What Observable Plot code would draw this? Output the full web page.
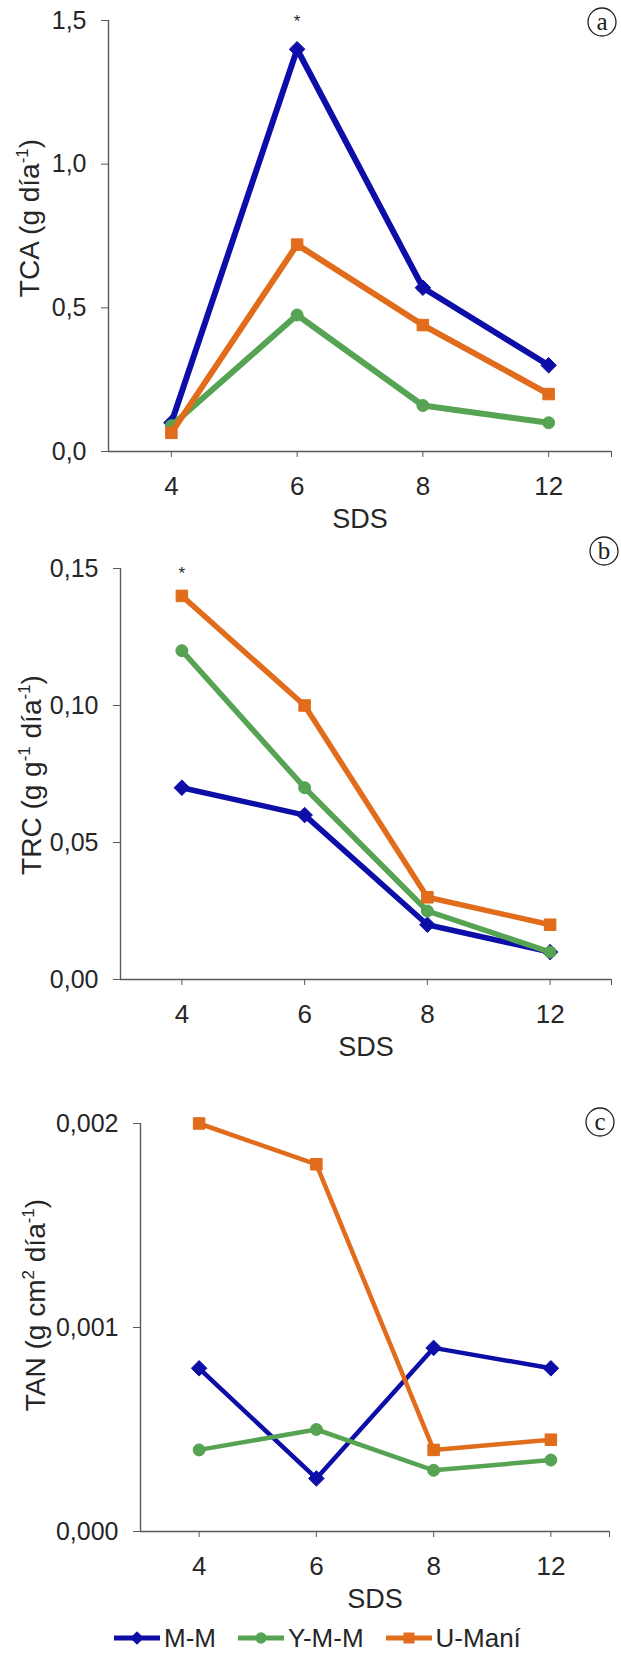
<!DOCTYPE html>
<html><head><meta charset="utf-8">
<script src="https://cdn.jsdelivr.net/npm/d3@7"></script>
<script src="https://cdn.jsdelivr.net/npm/@observablehq/plot@0.6"></script>
<style>
html,body{margin:0;padding:0;background:#fff;font-family:Arial,"Liberation Sans",Helvetica,sans-serif;overflow:hidden;}
#wrap{position:relative;width:621px;height:1654px;overflow:hidden;}
#wrap svg.panel{display:block;max-width:none !important;}
#legend{position:absolute;left:114px;top:1621px;height:34px;display:flex;align-items:center;gap:22px;font-size:26px;color:#262626;line-height:34px;}
#legend .item{display:flex;align-items:center;gap:4px;}
</style></head><body><div id="wrap"></div>
<script>
// categories and series
const sds = ["4", "6", "8", "12"];
const series = ["M-M", "Y-M-M", "U-Maní"];
const colors = ["#0d0da8", "#55a353", "#e06c1c"];
const symbols = ["diamond2", "circle", "square"];

// (a) TCA (g día-1)
const tcaMM  = [0.10, 1.40, 0.57, 0.30];
const tcaYMM = [0.09, 0.475, 0.16, 0.10];
const tcaUM  = [0.065, 0.72, 0.44, 0.20];
// (b) TRC (g g-1 día-1)
const trcMM  = [0.07, 0.06, 0.02, 0.01];
const trcYMM = [0.12, 0.07, 0.025, 0.01];
const trcUM  = [0.14, 0.10, 0.03, 0.02];
// (c) TAN (g cm2 día-1)
const tanMM  = [0.0008, 0.00026, 0.0009, 0.0008];
const tanYMM = [0.0004, 0.0005, 0.0003, 0.00035];
const tanUM  = [0.0020, 0.0018, 0.0004, 0.00045];

// y tick values
const ticksA = [0, 0.5, 1.0, 1.5];
const ticksB = [0, 0.05, 0.10, 0.15];
const ticksC = [0, 0.001, 0.002];

// significance marks (category, value)
const starA = [{sds: "6", v: 1.5}];
const starB = [{sds: "4", v: 0.15}];

const FONT = 'Arial, "Liberation Sans", Helvetica, sans-serif';
const AXIS = "#595959";
const TXT = "#262626";

function makePanel(o) {
  const rows = [];
  o.values.forEach((vals, si) => vals.forEach((v, i) => rows.push({si, s: series[si], i, v})));
  const marks = [
    Plot.ruleY([o.yDomain[0]], {stroke: AXIS, strokeWidth: 1.4}),
    Plot.ruleX([-0.5], {stroke: AXIS, strokeWidth: 1.4}),
    Plot.axisY({ticks: o.yTicks, tickFormat: d => d3.format(`.${o.dec}f`)(d).replace(".", ","),
      tickSize: 7, tickPadding: 15, label: null, stroke: AXIS, fill: TXT, className: "yax"}),
    Plot.axisX({ticks: [0, 1, 2, 3, 3.5], tickFormat: d => sds[d] ?? "",
      tickSize: 6, tickPadding: 19, label: null, stroke: AXIS, fill: TXT, className: "xax"}),
    Plot.text(["SDS"], {frameAnchor: "bottom", dy: o.sdsDy, fill: TXT, className: "sds"})
  ];
  series.forEach((s, si) => {
    const d = rows.filter(r => r.si === si);
    marks.push(Plot.line(d, {x: "i", y: "v", stroke: colors[si], strokeWidth: o.lw}));
    marks.push(Plot.dot(d, {x: "i", y: "v", symbol: symbols[si], fill: colors[si], stroke: colors[si], strokeWidth: 1, r: o.r[si]}));
  });
  if (o.star) marks.push(Plot.text(o.star, {x: d => sds.indexOf(d.sds), y: "v", text: () => "*", dy: o.starDy, fill: TXT, className: "star"}));
  const svg = Plot.plot({
    width: 621, height: o.height,
    marginTop: o.mt, marginBottom: o.mb, marginLeft: o.ml, marginRight: o.mr,
    style: {background: "#fff", overflow: "visible"},
    x: {type: "linear", domain: [-0.5, 3.5]},
    y: {domain: o.yDomain},
    marks
  });
  svg.classList.add("panel");
  const S = d3.select(svg);
  S.selectAll("text").style("font-family", FONT);
  S.selectAll("g.yax text").style("font-size", "25px");
  S.selectAll("g.xax text").style("font-size", "26px");
  S.selectAll("g.sds text").style("font-size", "27px");
  S.selectAll("g.star text").style("font-size", "17px");
  // y title with superscripts
  const t = S.append("text")
    .attr("transform", `translate(${o.titleX},${o.titleY}) rotate(-90)`)
    .attr("text-anchor", "middle").attr("fill", TXT)
    .style("font-family", FONT).style("font-size", "28px");
  let up = false;
  o.title.forEach(([str, sup]) => {
    const sp = t.append("tspan").text(str);
    if (sup) sp.style("font-size", "17px");
    if (sup && !up) { sp.attr("dy", -11); up = true; }
    else if (!sup && up) { sp.attr("dy", 11); up = false; }
  });
  // circled panel letter
  const g = S.append("g").attr("transform", `translate(${o.letterPos[0]},${o.letterPos[1]})`);
  g.append("circle").attr("r", 14).attr("fill", "none").attr("stroke", "#222").attr("stroke-width", 1.3);
  g.append("text").attr("text-anchor", "middle").attr("dy", "0.33em")
    .style("font-family", '"Liberation Serif", "DejaVu Serif", serif').style("font-size", "25px")
    .attr("fill", "#222").text(o.letter);
  return svg;
}

const wrap = document.getElementById("wrap");
wrap.appendChild(makePanel({
  values: [tcaMM, tcaYMM, tcaUM], yDomain: [0, 1.5], yTicks: ticksA, dec: 1,
  height: 545, mt: 20, mb: 94, ml: 108, mr: 10, lw: 6, r: [7, 6, 6.5], sdsDy: 76,
  title: [["TCA (g día", 0], ["-1", 1], [")", 0]], titleX: 39, titleY: 218,
  letter: "a", letterPos: [602, 22], star: starA, starDy: 1
}));
wrap.appendChild(makePanel({
  values: [trcMM, trcYMM, trcUM], yDomain: [0, 0.15], yTicks: ticksB, dec: 2,
  height: 555, mt: 23, mb: 121, ml: 120, mr: 10, lw: 5.5, r: [7, 6, 6.5], sdsDy: 76,
  title: [["TRC (g g", 0], ["-1", 1], [" día", 0], ["-1", 1], [")", 0]], titleX: 41, titleY: 230,
  letter: "b", letterPos: [604, 6], star: starB, starDy: 5
}));
wrap.appendChild(makePanel({
  values: [tanMM, tanYMM, tanUM], yDomain: [0, 0.002], yTicks: ticksC, dec: 3,
  height: 515, mt: 23, mb: 84, ml: 140, mr: 12, lw: 4.5, r: [7, 6, 6.5], sdsDy: 76,
  title: [["TAN (g cm", 0], ["2", 1], [" día", 0], ["-1", 1], [")", 0]], titleX: 45, titleY: 205,
  letter: "c", letterPos: [600, 22], star: null
}));

// legend
const lg = document.createElement("div");
lg.id = "legend";
series.forEach((s, si) => {
  const it = document.createElement("div");
  it.className = "item";
  const sw = d3.create("svg").attr("width", 46).attr("height", 16);
  sw.append("line").attr("x1", 0).attr("x2", 46).attr("y1", 8).attr("y2", 8).attr("stroke", colors[si]).attr("stroke-width", 5);
  sw.append("path").attr("transform", "translate(23,8)")
    .attr("d", d3.symbol(si === 0 ? d3.symbolDiamond2 : si === 1 ? d3.symbolCircle : d3.symbolSquare, si === 1 ? 100 : 120)())
    .attr("fill", colors[si]);
  it.appendChild(sw.node());
  const tx = document.createElement("span");
  tx.textContent = s;
  it.appendChild(tx);
  lg.appendChild(it);
});
wrap.appendChild(lg);
</script></body></html>
